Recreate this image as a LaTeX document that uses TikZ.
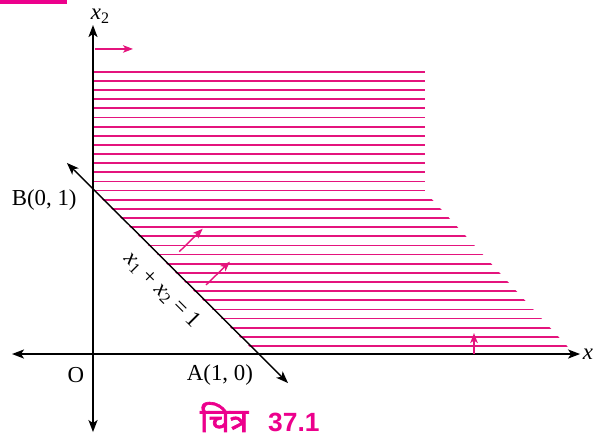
\documentclass[tikz,border=0pt]{standalone}
\usepackage{fontspec}
\setmainfont{Liberation Serif}
\newfontfamily\devfont[Script=Devanagari, FakeBold=2]{Noto Sans}
\newfontfamily\capfont{Liberation Sans}
\usetikzlibrary{arrows.meta}
\definecolor{hatchpink}{RGB}{228,20,125}
\definecolor{titlepink}{RGB}{236,0,140}

\begin{document}
\begin{tikzpicture}[x=3.28cm, y=3.28cm, font=\fontsize{13}{15}\selectfont,
  axis/.style={line width=1.1pt, {Stealth[length=2.4mm,width=1.8mm,inset=0.6mm]}-{Stealth[length=2.4mm,width=1.8mm,inset=0.6mm]}},
  hatch/.style={hatchpink, line width=1pt},
  dirarrow/.style={hatchpink, line width=0.8pt, -{Stealth[length=2mm,width=1.5mm,inset=0.5mm]}}]
\useasboundingbox (-0.567,-0.524) rectangle (3.073,2.1585);
% top bar
\fill[titlepink] (-0.567,2.136) rectangle (-0.159,2.1585);

% feasible region, hatched
\begin{scope}
\clip (0,1.8) -- (0,1) -- (1,0) -- (2.935,0) -- (2.024,0.990) -- (2.024,1.8) -- cycle;
\foreach \k in {0,...,30}
  \draw[hatch] (0,0.049+0.05573*\k) -- (3,0.049+0.05573*\k);
\end{scope}

% axes
\coordinate (O) at (0,0);
\draw[axis] (-0.494,0) -- (2.970,0) node[right, inner sep=1pt] (labx) {\textit{x}};
\draw[axis] (0,-0.476) -- (0,2.006);
\node (labxx) at (0.045,2.06) {\textit{x}\textsubscript{2}};

% line x1 + x2 = 1
\coordinate (lineup) at (-0.159,1.165);
\coordinate (linedown) at (1.189,-0.177);
\draw[line width=0.8pt, {Stealth[length=2.4mm,width=1.8mm,inset=0.6mm]}-{Stealth[length=2.4mm,width=1.8mm,inset=0.6mm]}] (lineup) -- (linedown);
\node[left, inner sep=0pt] (labB) at (-0.098,0.94) {B(0, 1)};
\node (labO) at (-0.104,-0.128) {O};
\node (labA) at (0.774,-0.13) {A(1, 0)};
\node[rotate=-45] (labeq) at (0.421,0.390) {\textit{x}\textsubscript{1} + \textit{x}\textsubscript{2} = 1};

% direction arrows
\draw[dirarrow] (0.012,1.860) -- (0.244,1.860);
\draw[dirarrow] (0.526,0.624) -- (0.669,0.764);
\draw[dirarrow] (0.689,0.421) -- (0.835,0.563);
\draw[dirarrow] (2.323,0) -- (2.323,0.128);

% caption
\node[titlepink, anchor=west, inner sep=0pt] (caption) at (0.65,-0.385)
  {{\devfont\fontsize{19}{21}\selectfont चित्र}\hspace{0.4cm}{\capfont\bfseries\fontsize{15}{18}\selectfont 37.1}};
\end{tikzpicture}
\end{document}
